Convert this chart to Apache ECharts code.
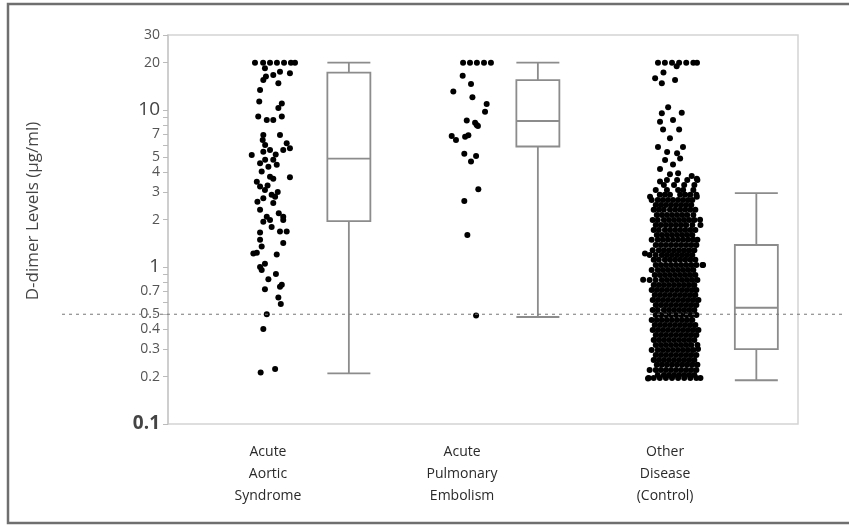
<!DOCTYPE html>
<html>
<head>
<meta charset="utf-8">
<script src="https://cdn.jsdelivr.net/npm/echarts@6/dist/echarts.min.js"></script>
<style>html,body{margin:0;padding:0;background:#fff}#chart{width:849px;height:526px}</style>
</head>
<body>
<div id="chart"></div>
<script>
const groupNames = ['Acute\nAortic\nSyndrome', 'Acute\nPulmonary\nEmbolism', 'Other\nDisease\n(Control)'];
const groupCenters = [5, 15, 25];
const labelPositions = [4.92, 14.47, 24.46];
const boxPositions = [8.9, 18.2, 28.95];
// [min, Q1, median, Q3, max]
const boxStats = [
    [0.21, 1.96, 4.9, 17.3, 20],
    [0.48, 5.85, 8.5, 15.5, 20],
    [0.19, 0.3, 0.55, 1.38, 2.95]
];
const yTicks = [0.1, 0.2, 0.3, 0.4, 0.5, 0.6, 0.7, 0.8, 0.9, 1, 2, 3, 4, 5, 6, 7, 8, 9, 10, 20, 30];
const yLabels = [0.1, 0.2, 0.3, 0.4, 0.5, 0.7, 1, 2, 3, 4, 5, 7, 10, 20, 30];
const cutoff = 0.5;

// jittered points: [x offset from group centre, D-dimer value]
const aorticPoints = [
    [-0.72, 20], [-0.32, 20], [0.02, 20], [0.36, 20], [0.71, 20], [1.05, 20], [1.25, 20],
    [-0.23, 18.4], [-0.31, 15.5], [-0.18, 16.3], [0.18, 16.7], [0.51, 17.5], [1.0, 17.1], [0.43, 14.8],
    [-0.47, 13.4], [-0.51, 11.3], [0.6, 11.0], [0.43, 10.3], [-0.56, 9.07], [-0.14, 8.64], [0.18, 8.64], [0.6, 9.07],
    [-0.31, 6.93], [0.51, 6.93], [-0.34, 6.44], [-0.22, 5.98], [0.84, 6.14], [1.0, 5.7], [-0.88, 5.17],
    [-0.31, 5.42], [0.02, 5.56], [0.67, 5.56], [0.3, 5.2], [-0.47, 4.57], [-0.22, 4.81], [0.18, 4.81],
    [-0.06, 4.35], [0.35, 4.47], [-0.39, 4.05], [0.02, 3.76], [0.18, 3.64], [1.0, 3.73], [-0.1, 3.3],
    [-0.63, 3.49], [-0.47, 3.25], [-0.23, 3.09], [0.1, 2.88], [0.4, 3.0], [-0.31, 2.74], [0.27, 2.8],
    [0.18, 2.55], [-0.6, 2.6], [-0.47, 2.31], [-0.14, 2.09], [0.67, 2.09], [0.45, 2.2],
    [-0.31, 1.94], [0.02, 1.99], [0.67, 1.99], [0.84, 1.68], [0.51, 1.68], [-0.47, 1.66], [0.1, 1.8],
    [-0.47, 1.49], [-0.39, 1.35], [0.67, 1.42], [-0.8, 1.22], [-0.63, 1.23], [0.35, 1.2],
    [-0.47, 1.0], [-0.23, 1.05], [-0.39, 0.957], [0.31, 0.903], [-0.06, 0.834], [0.51, 0.749], [0.6, 0.77],
    [-0.23, 0.721], [0.43, 0.638], [0.55, 0.581], [-0.14, 0.5], [-0.31, 0.403], [-0.44, 0.213], [0.27, 0.224]
];
const pulmonaryPoints = [
    [-0.48, 20], [-0.14, 20], [0.2, 20], [0.55, 20], [0.89, 20],
    [-0.5, 16.5], [-0.09, 14.6], [-0.96, 13.1], [-0.02, 12.05], [0.68, 10.9], [0.6, 9.75],
    [-0.3, 8.55], [0.11, 8.3], [0.19, 8.02], [0.25, 7.9], [-1.04, 6.83], [-0.83, 6.44], [-0.38, 6.76], [-0.22, 6.9],
    [-0.42, 5.25], [0.16, 5.09], [-0.09, 4.69], [0.27, 3.12], [-0.42, 2.63], [-0.27, 1.6], [0.16, 0.49]
];
const controlSparse = [
    [-0.89, 20], [-0.55, 20], [-0.2, 20], [0.15, 20], [0.5, 20], [0.85, 20], [1.03, 20], [0.03, 19],
    [-0.62, 17.3], [-1.03, 15.9], [-0.7, 14.8], [-0.05, 15.5],
    [-0.39, 10.4], [-0.7, 9.53], [0.28, 9.6], [-0.79, 8.4], [-0.15, 8.64], [0.15, 7.5], [-0.64, 7.5], [-0.3, 6.6],
    [-0.89, 5.8], [0.34, 5.8], [-0.44, 5.4], [0.05, 5.3], [-0.54, 4.8], [0.2, 4.9], [-0.15, 4.5], [-0.79, 4.2],
    [-0.3, 3.9], [0.1, 3.95], [0.77, 3.8], [1.02, 3.64], [-0.79, 3.5],
    [-1.28, 2.8], [1.02, 2.8], [1.18, 2.0], [-1.53, 1.22], [1.33, 1.03], [-1.62, 0.83], [1.08, 0.3], [-1.38, 0.195]
];
// dense part of the control column, read row by row
const controlLevels = [3.58, 3.33, 3.09, 2.88, 2.67, 2.48, 2.31, 2.14, 1.99, 1.85, 1.72, 1.6, 1.49, 1.38,
    1.28, 1.19, 1.11, 1.03, 0.957, 0.889, 0.826, 0.768, 0.714, 0.663, 0.616, 0.573, 0.532, 0.495, 0.46,
    0.427, 0.397, 0.369, 0.343, 0.319, 0.296, 0.275, 0.256, 0.238, 0.221, 0.205, 0.196];
const controlRows = [
    [-0.45, 0.05, 0.55, 1.05],
    [-0.6, -0.1, 0.4, 0.9],
    [-1.0, -0.45, 0.1, 0.35, 0.85],
    [-0.8, -0.55, -0.3, 0.2, 0.45, 0.7, 1.0],
    [-1.2, -0.9, -0.65, -0.4, -0.15, 0.1, 0.35, 0.6, 0.8],
    [-1.0, -0.75, -0.5, -0.25, 0.0, 0.25, 0.5, 0.75],
    [-1.1, -0.85, -0.6, -0.3, -0.05, 0.2, 0.45, 0.7, 0.95],
    [-0.95, -0.7, -0.45, -0.2, 0.05, 0.3, 0.55, 0.85],
    [-1.15, -0.9, -0.6, -0.35, -0.1, 0.15, 0.4, 0.65, 0.9],
    [-1.0, -0.75, -0.5, -0.25, 0.0, 0.25, 0.5, 0.8, 1.2],
    [-1.1, -0.85, -0.55, -0.3, -0.05, 0.2, 0.45, 0.7, 0.95],
    [-0.95, -0.7, -0.45, -0.2, 0.05, 0.3, 0.55, 0.8],
    [-1.2, -0.9, -0.65, -0.4, -0.15, 0.1, 0.35, 0.6, 0.85, 1.05],
    [-1.0, -0.75, -0.5, -0.25, 0.0, 0.25, 0.5, 0.75, 1.0],
    [-1.15, -0.85, -0.6, -0.35, -0.1, 0.15, 0.4, 0.65, 0.9],
    [-1.3, -1.0, -0.7, -0.45, -0.2, 0.05, 0.3, 0.55, 0.8],
    [-1.1, -0.85, -0.55, -0.3, -0.05, 0.2, 0.45, 0.7, 0.95],
    [-1.0, -0.75, -0.5, -0.25, 0.0, 0.25, 0.5, 0.75, 1.0, 1.3],
    [-1.2, -0.9, -0.65, -0.4, -0.15, 0.1, 0.35, 0.6, 0.85],
    [-1.05, -0.8, -0.55, -0.3, -0.05, 0.2, 0.45, 0.7, 0.95],
    [-1.3, -1.0, -0.7, -0.45, -0.2, 0.05, 0.3, 0.55, 0.8, 1.05],
    [-1.1, -0.85, -0.6, -0.35, -0.1, 0.15, 0.4, 0.65, 0.9],
    [-1.2, -0.95, -0.7, -0.45, -0.2, 0.05, 0.3, 0.55, 0.8, 1.0],
    [-1.05, -0.8, -0.55, -0.3, -0.05, 0.2, 0.45, 0.7, 0.95],
    [-1.15, -0.9, -0.65, -0.4, -0.15, 0.1, 0.35, 0.6, 0.85, 1.1],
    [-1.0, -0.75, -0.5, -0.25, 0.0, 0.25, 0.5, 0.75, 1.0],
    [-1.15, -0.9, -0.6, -0.35, -0.1, 0.15, 0.4, 0.65, 0.9],
    [-1.0, -0.75, -0.5, -0.25, 0.0, 0.25, 0.5, 0.75, 1.0],
    [-1.2, -0.95, -0.7, -0.45, -0.2, 0.05, 0.3, 0.55, 0.8],
    [-1.05, -0.8, -0.55, -0.3, -0.05, 0.2, 0.45, 0.7, 0.95],
    [-1.15, -0.9, -0.65, -0.4, -0.15, 0.1, 0.35, 0.6, 0.85, 1.1],
    [-1.0, -0.75, -0.5, -0.25, 0.0, 0.25, 0.5, 0.75, 1.0],
    [-1.1, -0.85, -0.6, -0.35, -0.1, 0.15, 0.4, 0.65, 0.9],
    [-1.0, -0.75, -0.5, -0.25, 0.0, 0.25, 0.5, 0.75, 1.05],
    [-1.2, -0.9, -0.65, -0.4, -0.15, 0.1, 0.35, 0.6, 0.85],
    [-1.0, -0.75, -0.5, -0.25, 0.0, 0.25, 0.5, 0.75, 1.0],
    [-1.1, -0.85, -0.6, -0.35, -0.1, 0.15, 0.4, 0.65, 0.9],
    [-0.95, -0.7, -0.45, -0.2, 0.05, 0.3, 0.55, 0.8, 1.05],
    [-1.3, -1.0, -0.75, -0.5, -0.25, 0.0, 0.25, 0.5, 0.75, 1.0],
    [-0.9, -0.6, -0.35, -0.1, 0.15, 0.4, 0.65, 0.9],
    [-1.35, -1.1, -0.8, -0.5, -0.2, 0.1, 0.4, 0.7, 1.0, 1.2]
];

const controlPoints = controlSparse.slice();
controlRows.forEach((row, i) => row.forEach(off => controlPoints.push([off, controlLevels[i]])));

const toXY = (points, g) => points.map(p => [groupCenters[g] + p[0], p[1]]);
const allPoints = [].concat(toXY(aorticPoints, 0), toXY(pulmonaryPoints, 1), toXY(controlPoints, 2));

const chart = echarts.init(document.getElementById('chart'));

const fmtY = v => {
    const s = String(Number(v.toPrecision(3)));
    if (s === '10' || s === '1') return '{big|' + s + '}';
    if (s === '0.1') return '{bold|' + s + '}';
    return s;
};

chart.setOption({
    animation: false,
    grid: {
        left: 168, right: 51, top: 35, bottom: 102,
        show: true, borderColor: '#d4d4d4', borderWidth: 1.5
    },
    xAxis: {
        type: 'value', min: 0, max: 31,
        axisLine: { show: false }, axisTick: { show: false }, splitLine: { show: false },
        axisLabel: {
            customValues: labelPositions,
            formatter: v => groupNames[labelPositions.findIndex(p => Math.abs(p - v) < 0.01)] || '',
            margin: 17, lineHeight: 22, fontSize: 14, color: '#2a2a2a', fontFamily: 'Open Sans'
        }
    },
    yAxis: {
        type: 'log', logBase: 10, min: 0.1, max: 30,
        splitLine: { show: false },
        axisLine: { show: true, lineStyle: { color: '#c8c8c8', width: 1.5 } },
        axisTick: { show: true, customValues: yTicks, length: 5, lineStyle: { color: '#bbb' } },
        axisLabel: {
            customValues: yLabels, formatter: fmtY, margin: 8,
            color: '#555', fontSize: 14, fontFamily: 'Open Sans',
            rich: {
                big: { fontSize: 19, color: '#444', fontFamily: 'Open Sans' },
                bold: { fontSize: 19, fontWeight: 'bold', color: '#444', fontFamily: 'Open Sans' }
            }
        }
    },
    series: [
        {
            type: 'scatter',
            data: allPoints,
            symbolSize: 6,
            itemStyle: { color: '#000', opacity: 1 }
        },
        {
            type: 'boxplot',
            data: boxStats.map((s, i) => [boxPositions[i]].concat(s)),
            boxWidth: [43, 43],
            itemStyle: { color: '#fff', borderColor: '#8c8c8c', borderWidth: 1.8 }
        }
    ]
});

const yCut = chart.convertToPixel({ yAxisIndex: 0 }, cutoff);
chart.setOption({
    graphic: [
        {
            type: 'rect', shape: { x: 8, y: 4, width: 860, height: 519 },
            style: { fill: 'none', stroke: '#6f6f6f', lineWidth: 2.5 }, silent: true
        },
        {
            type: 'line', shape: { x1: 62, y1: yCut, x2: 845, y2: yCut }, z: 100,
            style: { stroke: '#777', lineWidth: 1, lineDash: [3, 4] }, silent: true
        },
        {
            type: 'text', x: 33, y: 211, rotation: Math.PI / 2,
            style: {
                text: 'D-dimer Levels (\u00b5g/ml)', fontSize: 17, fill: '#444',
                fontFamily: 'Open Sans', align: 'center', verticalAlign: 'middle'
            }
        }
    ]
});
</script>
</body>
</html>
